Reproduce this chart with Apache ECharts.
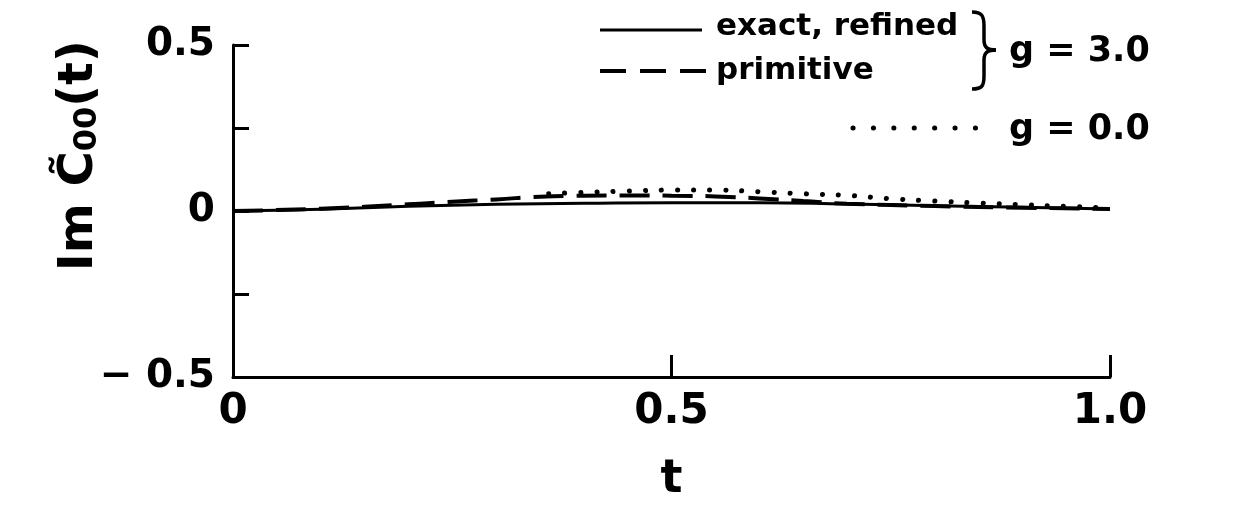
<!DOCTYPE html>
<html>
<head>
<meta charset="utf-8">
<script src="https://cdn.jsdelivr.net/npm/echarts@6/dist/echarts.min.js"></script>
<style>
html,body{margin:0;padding:0;background:#fff;}
#c{width:1240px;height:516px;}
</style>
</head>
<body>
<div id="c"></div>
<script>
// ---- data ----
var exactT      = [0, 0.1, 0.2, 0.3, 0.4, 0.5, 0.6, 0.7, 0.8, 0.9, 1.0];
var exactV      = [0, 0.005, 0.014, 0.020, 0.023, 0.025, 0.025, 0.021, 0.016, 0.011, 0.006];

var primT       = [0, 0.1, 0.2, 0.25, 0.3, 0.35, 0.4, 0.45, 0.5, 0.55, 0.6, 0.65, 0.7, 0.8, 0.9, 1.0];
var primV       = [0, 0.007, 0.020, 0.028, 0.035, 0.043, 0.046, 0.047, 0.046, 0.044, 0.038, 0.030, 0.022, 0.015, 0.010, 0.006];

var freeT       = [0.36, 0.4, 0.45, 0.5, 0.55, 0.6, 0.65, 0.7, 0.75, 0.8, 0.85, 0.9, 0.95, 1.0];
var freeV       = [0.052, 0.056, 0.060, 0.063, 0.063, 0.058, 0.052, 0.047, 0.037, 0.030, 0.024, 0.019, 0.014, 0.009];

var xTickLabels = {'0': '0', '0.5': '0.5', '1': '1.0'};
var yTickLabels = {'0.5': '0.5', '0': '0', '-0.5': '\u2212 0.5'};

var legendLabels = ['exact, refined', 'primitive', 'g = 3.0', 'g = 0.0'];
var yName = 'Im C\u0303';
var ySub = '00';
var xName = 't';

function zip(a, b) { return a.map(function (v, i) { return [v, b[i]]; }); }

var FONT = 'DejaVu Sans';
var braceStyle = {stroke: '#000', fill: 'none', lineWidth: 3.5};
var chart = echarts.init(document.getElementById('c'));
chart.setOption({
  backgroundColor: '#fff',
  animation: false,
  grid: {left: 233, right: 130, top: 45, bottom: 139},
  xAxis: {
    type: 'value', min: 0, max: 1, interval: 0.5,
    name: xName, nameLocation: 'middle', nameGap: 80,
    nameTextStyle: {fontFamily: FONT, fontWeight: 'bold', fontSize: 46, color: '#000'},
    axisLine: {show: true, onZero: false, lineStyle: {color: '#000', width: 3}},
    axisTick: {show: true, inside: true, length: 22, lineStyle: {color: '#000', width: 3}},
    axisLabel: {margin: 14, fontFamily: FONT, fontWeight: 'bold', fontSize: 42, color: '#000',
      formatter: function (v) { return xTickLabels[String(v)] || ''; }},
    splitLine: {show: false}
  },
  yAxis: {
    type: 'value', min: -0.5, max: 0.5, interval: 0.25,
    axisLine: {show: true, onZero: false, lineStyle: {color: '#000', width: 3}},
    axisTick: {show: true, inside: true, length: 16, lineStyle: {color: '#000', width: 3}},
    axisLabel: {margin: 18, fontFamily: FONT, fontWeight: 'bold', fontSize: 39, color: '#000',
      formatter: function (v) { var k = String(v); return yTickLabels[k] !== undefined ? yTickLabels[k] : ''; }},
    splitLine: {show: false}
  },
  graphic: [
    {type: 'text', left: 56, top: 40, rotation: Math.PI / 2, style: {
      text: '{a|' + yName + '}{s|' + ySub + '}{a|(t)}',
      rich: {
        a: {fontFamily: FONT, fontWeight: 'bold', fontSize: 48, fill: '#000'},
        s: {fontFamily: FONT, fontWeight: 'bold', fontSize: 32, fill: '#000', verticalAlign: 'bottom', padding: [16, 0, 0, 0]}
      }
    }},
    {type: 'line', shape: {x1: 600, y1: 30, x2: 702, y2: 30}, style: {stroke: '#000', lineWidth: 3}},
    {type: 'line', shape: {x1: 600, y1: 71, x2: 706, y2: 71}, style: {stroke: '#000', lineWidth: 4, lineDash: [26, 14]}},
    {type: 'line', shape: {x1: 853, y1: 128, x2: 980, y2: 128}, style: {stroke: '#000', lineWidth: 5, lineDash: [0.1, 20.3], lineCap: 'round'}},
    {type: 'text', x: 716, y: 27, style: {text: legendLabels[0], fontFamily: FONT, fontWeight: 'bold', fontSize: 31, fill: '#000', verticalAlign: 'middle'}},
    {type: 'text', x: 716, y: 71, style: {text: legendLabels[1], fontFamily: FONT, fontWeight: 'bold', fontSize: 31, fill: '#000', verticalAlign: 'middle'}},
    {type: 'bezierCurve', shape: {x1: 972, y1: 12, x2: 984, y2: 26, cpx1: 982, cpy1: 12, cpx2: 984, cpy2: 16}, style: braceStyle},
    {type: 'line', shape: {x1: 984, y1: 26, x2: 984, y2: 40}, style: braceStyle},
    {type: 'bezierCurve', shape: {x1: 984, y1: 40, x2: 996, y2: 50, cpx1: 984, cpy1: 48, cpx2: 988, cpy2: 50}, style: braceStyle},
    {type: 'bezierCurve', shape: {x1: 996, y1: 50, x2: 984, y2: 60, cpx1: 988, cpy1: 50, cpx2: 984, cpy2: 52}, style: braceStyle},
    {type: 'line', shape: {x1: 984, y1: 60, x2: 984, y2: 76}, style: braceStyle},
    {type: 'bezierCurve', shape: {x1: 984, y1: 76, x2: 972, y2: 89, cpx1: 984, cpy1: 86, cpx2: 982, cpy2: 89}, style: braceStyle},
    {type: 'text', x: 1009, y: 52, style: {text: legendLabels[2], fontFamily: FONT, fontWeight: 'bold', fontSize: 35, fill: '#000', verticalAlign: 'middle'}},
    {type: 'text', x: 1009, y: 130, style: {text: legendLabels[3], fontFamily: FONT, fontWeight: 'bold', fontSize: 35, fill: '#000', verticalAlign: 'middle'}}
  ],
  series: [
    {type: 'line', name: legendLabels[0], data: zip(exactT, exactV), smooth: true, symbol: 'none',
      lineStyle: {color: '#000', width: 3}},
    {type: 'line', name: legendLabels[1], data: zip(primT, primV), smooth: true, symbol: 'none',
      lineStyle: {color: '#000', width: 4, type: [30, 13]}},
    {type: 'line', name: legendLabels[3], data: zip(freeT, freeV), smooth: true, symbol: 'none',
      lineStyle: {color: '#000', width: 5, type: [0.1, 16], cap: 'round'}}
  ]
});
</script>
</body>
</html>
